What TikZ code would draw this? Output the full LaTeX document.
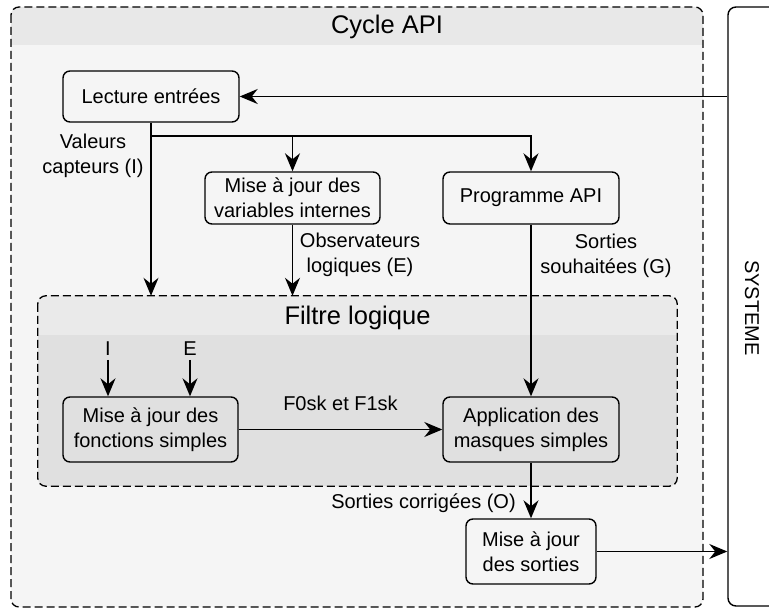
\documentclass[tikz,border=0pt]{standalone}
\usepackage{fontspec}
\setmainfont{Liberation Sans}
\usetikzlibrary{arrows.meta}
\definecolor{outerbody}{HTML}{F5F5F5}
\definecolor{outerhead}{HTML}{E8E8E8}
\definecolor{filtbody}{HTML}{E0E0E0}
\definecolor{filthead}{HTML}{EAEAEA}
\tikzset{
  txt/.style={font=\fontsize{20}{25}\selectfont, align=center, inner sep=0pt},
  ttl/.style={font=\fontsize{25.5}{30}\selectfont, inner sep=0pt},
  box/.style={draw, line width=1.4pt, rounded corners=7pt, txt, minimum width=176pt},
  dashbox/.style={draw, line width=1.3pt, dash pattern=on 8pt off 4pt, rounded corners=8pt},
  conn/.style={line width=1.6pt, -{Stealth[length=18pt,width=15pt,inset=6pt]}},
  plain/.style={line width=1.6pt},
}
\begin{document}
\begin{tikzpicture}[x=1pt,y=-1pt]
\useasboundingbox (0,0) rectangle (769,612);
\clip (0,0) rectangle (769,612);
% outer container
\fill[outerbody, rounded corners=8pt] (11,7) rectangle (703,607);
\begin{scope}
  \clip (11,7) rectangle (703,45);
  \fill[outerhead, rounded corners=8pt] (11,7) rectangle (703,607);
\end{scope}
\draw[dashbox] (11,7) rectangle (703,607);
\node[ttl] (cycle) at (387,27) {Cycle API};
% filter container
\node[inner sep=0pt, minimum width=639pt, minimum height=190pt] (filtre) at (357.5,391) {};
\fill[filtbody, rounded corners=8pt] (filtre.north west) rectangle (filtre.south east);
\begin{scope}
  \clip (38,296) rectangle (677,335);
  \fill[filthead, rounded corners=8pt] (filtre.north west) rectangle (filtre.south east);
\end{scope}
\draw[dashbox] (filtre.north west) rectangle (filtre.south east);
\node[ttl] (ftitle) at (357.5,318) {Filtre logique};
% system
\node[draw, line width=1.4pt, rounded corners=8pt, minimum width=80pt, minimum height=599pt, inner sep=0pt] (sys) at (768,306.5) {};
\node[txt, rotate=-90] (systxt) at (752,308) {SYSTEME};
% boxes
\node[box, minimum height=51pt] (lect) at (151,96.5) {Lecture entrées};
\node[box, minimum width=175pt, minimum height=52pt] (var) at (292.5,198) {Mise à jour des\\variables internes};
\node[box, minimum height=52pt] (prog) at (531,198) {Programme API};
\node[box, minimum width=175pt, minimum height=65pt] (fonc) at (150.5,429.5) {Mise à jour des\\fonctions simples};
\node[box, minimum height=65pt] (app) at (531,429.5) {Application des\\masques simples};
\node[box, minimum width=130pt, minimum height=65pt] (sort) at (531,551.5) {Mise à jour\\des sorties};
% labels
\node[txt] (lval) at (93,155.5) {Valeurs\\capteurs (I)};
\node[txt] (lobs) at (360,254.5) {Observateurs\\logiques (E)};
\node[txt] (lsou) at (606,255.5) {Sorties\\souhaitées (G)};
\node[txt] (lf) at (340.5,403) {F0sk et F1sk};
\node[txt] (lcor) at (423.5,503) {Sorties corrigées (O)};
\node[txt, anchor=south] (li) at (108,356) {I};
\node[txt, anchor=south] (le) at (190,356) {E};
% connectors
\coordinate (br) at (151,136);
\coordinate (brv) at (292.5,136);
\draw[conn] (sys.west |- lect) -- (lect.east);
\draw[conn] (lect.south) -- (lect.south |- filtre.north);
\draw[plain] (br) -- (brv);
\draw[conn] (br) -| (prog.north);
\draw[conn] (brv) -- (var.north);
\draw[conn] (var.south) -- (var.south |- filtre.north);
\draw[conn] (prog.south) -- (app.north);
\draw[conn] ([yshift=-4pt]li.south) -- (li.south |- fonc.north);
\draw[conn] ([yshift=-4pt]le.south) -- (le.south |- fonc.north);
\draw[conn] (fonc.east) -- (app.west);
\draw[conn] (app.south) -- (sort.north);
\draw[conn] (sort.east) -- (sys.west |- sort);
\end{tikzpicture}
\end{document}
